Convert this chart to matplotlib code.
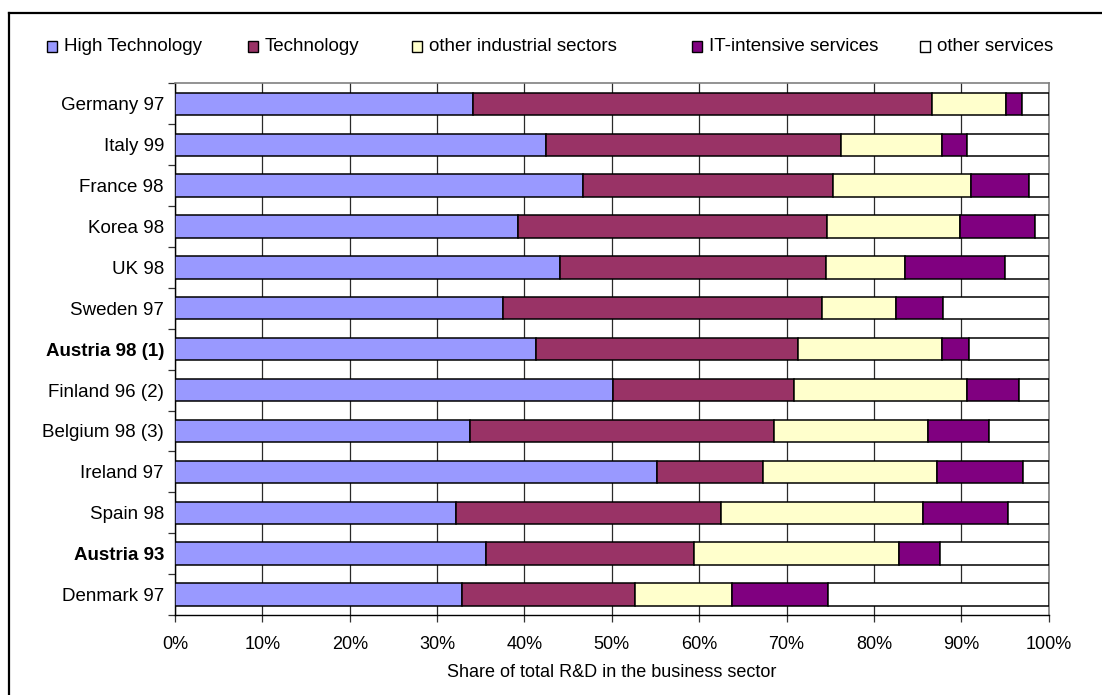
import numpy as np
import matplotlib.pyplot as plt
from matplotlib.patches import Rectangle
from matplotlib.lines import Line2D
from matplotlib.ticker import FixedLocator, PercentFormatter

plt.rcParams['font.family'] = ['Liberation Sans', 'DejaVu Sans']

# countries from top to bottom
countries = ['Germany 97', 'Italy 99', 'France 98', 'Korea 98', 'UK 98', 'Sweden 97',
             'Austria 98 (1)', 'Finland 96 (2)', 'Belgium 98 (3)', 'Ireland 97',
             'Spain 98', 'Austria 93', 'Denmark 97']
bold_labels = ['Austria 98 (1)', 'Austria 93']

# shares of business R&D by sector (%)
high_tech = [34.1, 42.5, 46.7, 39.3, 44.1, 37.5, 41.3, 50.1, 33.8, 55.2, 32.2, 35.6, 32.8]
technology = [52.6, 33.7, 28.6, 35.3, 30.4, 36.6, 30.0, 20.7, 34.8, 12.1, 30.3, 23.8, 19.9]
other_industry = [8.4, 11.6, 15.8, 15.3, 9.1, 8.4, 16.5, 19.8, 17.6, 19.9, 23.1, 23.5, 11.0]
it_services = [1.9, 2.8, 6.6, 8.5, 11.4, 5.4, 3.1, 6.0, 7.0, 9.9, 9.7, 4.7, 11.1]
other_services = [3.0, 9.4, 2.3, 1.6, 5.0, 12.1, 9.1, 3.4, 6.8, 2.9, 4.7, 12.4, 25.2]

series = [
    ('High Technology', high_tech, '#9999FF'),
    ('Technology', technology, '#993366'),
    ('other industrial sectors', other_industry, '#FFFFCC'),
    ('IT-intensive services', it_services, '#800080'),
    ('other services', other_services, '#FFFFFF'),
]

fig = plt.figure(figsize=(11.02, 6.95), dpi=100)
ax = fig.add_axes([0.1588, 0.1151, 0.7928, 0.7650])

y = np.arange(len(countries))
left = np.zeros(len(countries))
for name, vals, color in series:
    vals = np.array(vals)
    ax.barh(y, vals, left=left, height=0.546, color=color, edgecolor='black',
            linewidth=1.1, zorder=3)
    left += vals

ax.set_xlim(0, 100)
ax.set_ylim(len(countries) - 0.5, -0.5)

# vertical gridlines
ax.xaxis.set_major_locator(FixedLocator(np.arange(0, 101, 10)))
ax.xaxis.set_major_formatter(PercentFormatter(decimals=0))
ax.grid(axis='x', color='#2a2a2a', linewidth=0.9, zorder=0)

# category ticks sit between the bars
ax.set_yticks(y)
ax.set_yticklabels(countries)
ax.yaxis.set_minor_locator(FixedLocator(np.arange(-0.5, len(countries), 1)))
ax.tick_params(axis='y', which='major', length=0, pad=8, labelsize=13.5)
ax.tick_params(axis='y', which='minor', length=5, width=0.9, color='#333333')
ax.tick_params(axis='x', which='major', length=5, width=0.9, color='#333333',
               pad=10, labelsize=13)
for lbl in ax.get_yticklabels():
    if lbl.get_text() in bold_labels:
        lbl.set_fontweight('bold')

ax.set_xlabel('Share of total R&D in the business sector', fontsize=13, labelpad=8)

for side in ['top', 'right']:
    ax.spines[side].set_color('#808080')
    ax.spines[side].set_linewidth(1.2)
for side in ['left', 'bottom']:
    ax.spines[side].set_color('black')
    ax.spines[side].set_linewidth(1.0)

# legend row across the top
W, H = 1102, 695
legend_x = [47, 248, 412, 692, 920]
legend_y = 46.5
for (name, vals, color), lx in zip(series, legend_x):
    fig.add_artist(Rectangle((lx / W, 1 - (legend_y + 5) / H), 10 / W, 10 / H,
                             transform=fig.transFigure, facecolor=color,
                             edgecolor='black', linewidth=1.0))
    fig.text((lx + 17) / W, 1 - legend_y / H, name, fontsize=13.5, va='center', ha='left')

# outer frame
fig.add_artist(Line2D([8.5 / W, 8.5 / W], [1 - 13 / H, -0.1], color='black',
                      linewidth=1.6, transform=fig.transFigure))
fig.add_artist(Line2D([8.5 / W, 1.1], [1 - 13 / H, 1 - 13 / H], color='black',
                      linewidth=1.6, transform=fig.transFigure))

fig.savefig('out.png', dpi=100)
